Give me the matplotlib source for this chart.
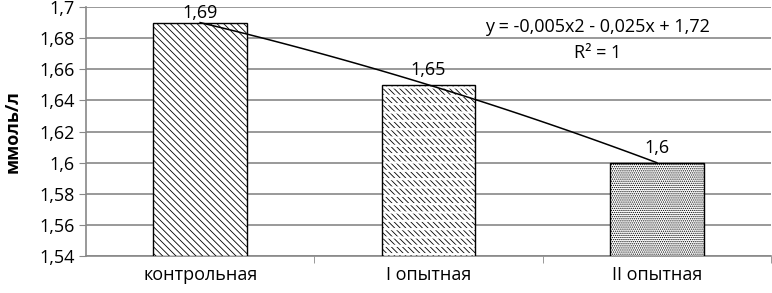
import matplotlib.pyplot as plt
import numpy as np

plt.rcParams['font.family'] = ['Open Sans', 'DejaVu Sans']

categories = ['контрольная', 'I опытная', 'II опытная']
values = [1.69, 1.65, 1.6]
value_labels = ['1,69', '1,65', '1,6']
yticks = [1.54, 1.56, 1.58, 1.6, 1.62, 1.64, 1.66, 1.68, 1.7]
ytick_labels = ['1,54', '1,56', '1,58', '1,6', '1,62', '1,64', '1,66', '1,68', '1,7']
hatches = ['\\\\\\\\\\', '\\\\\\\\\\\\', '........']
equation = 'y = -0,005x2 - 0,025x + 1,72'
r2_text = 'R² = 1'

fig = plt.figure(figsize=(7.72, 2.93), dpi=100)
ax = fig.add_axes([0.1114, 0.126, 0.8873, 0.85])

x = np.arange(len(categories))
base = yticks[0]
for i in range(len(categories)):
    plt.rcParams['hatch.linewidth'] = 0.6
    ax.bar(x[i], values[i] - base, bottom=base, width=0.41, color='white',
           edgecolor='black', hatch=hatches[i], linewidth=0, zorder=3)
    if i == 1:
        # break diagonal hatch into rows of short dashes
        plt.rcParams['hatch.linewidth'] = 1.6
        ax.bar(x[i], values[i] - base, bottom=base, width=0.41, fill=False,
               edgecolor='white', hatch='--', linewidth=0, zorder=3.1)
    ax.bar(x[i], values[i] - base, bottom=base, width=0.41, fill=False,
           edgecolor='black', linewidth=1.0, zorder=3.2)
    # labels pushed down when they would leave the plot area (as Excel does)
    ly = min(values[i] + 0.0035, 1.6905)
    ax.text(x[i], ly, value_labels[i], ha='center', va='bottom',
            fontsize=13, zorder=5)

# polynomial trend line (order 2), x from 1..3 as in Excel
coef = np.polyfit(x + 1, values, 2)
xs = np.linspace(0, 2, 100)
ax.plot(xs, np.polyval(coef, xs + 1), color='black', lw=1.1, zorder=4)

ax.text(1.74, 1.687, equation, ha='center', va='center', fontsize=13)
ax.text(1.74, 1.6705, r2_text, ha='center', va='center', fontsize=13)

ax.set_xlim(-0.5, 2.5)
ax.set_ylim(1.54, 1.7)
ax.set_yticks(yticks)
ax.set_yticklabels(ytick_labels, fontsize=13)
ax.set_xticks(x)
ax.set_xticklabels(categories, fontsize=13)
ax.set_xticks([0.5, 1.5, 2.5], minor=True)
ax.tick_params(axis='x', which='major', length=0, pad=7)
ax.tick_params(axis='x', which='minor', length=5, color='#888888')
ax.tick_params(axis='y', length=5, color='#888888', pad=3)
ax.yaxis.grid(True, color='#888888', lw=1.2)
ax.set_axisbelow(True)
for s in ['top', 'right']:
    ax.spines[s].set_visible(False)
for s in ['left', 'bottom']:
    ax.spines[s].set_color('#888888')
    ax.spines[s].set_linewidth(1.2)
ax.set_ylabel('ммоль/л', fontsize=13, fontweight='bold', labelpad=13)

fig.savefig('out.png', dpi=100)
